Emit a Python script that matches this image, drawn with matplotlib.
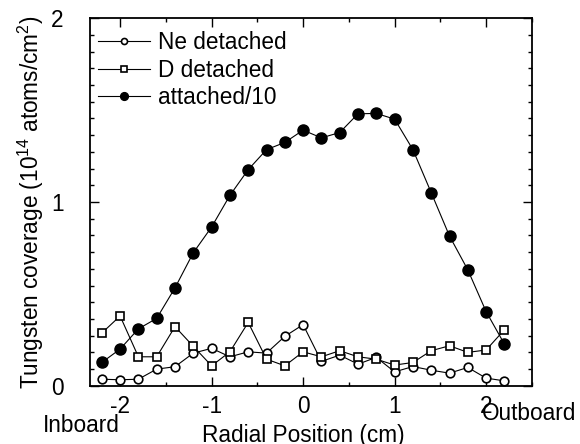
import numpy as np
import matplotlib
matplotlib.use('Agg')
import matplotlib.pyplot as plt
from matplotlib.ticker import FixedLocator, MultipleLocator

plt.rcParams['font.family'] = ['Liberation Sans', 'DejaVu Sans']
plt.rcParams['mathtext.fontset'] = 'custom'
plt.rcParams['mathtext.rm'] = 'Liberation Sans'

# radial positions (cm)
position = [-2.2, -2.0, -1.8, -1.6, -1.4, -1.2, -1.0, -0.8, -0.6, -0.4, -0.2, 0.0,
            0.2, 0.4, 0.6, 0.8, 1.0, 1.2, 1.4, 1.6, 1.8, 2.0, 2.2]

ne_detached = [0.036, 0.033, 0.036, 0.091, 0.104, 0.178, 0.204, 0.158, 0.185, 0.178, 0.269, 0.333,
               0.133, 0.167, 0.118, 0.155, 0.076, 0.105, 0.085, 0.069, 0.100, 0.042, 0.027]

d_detached = [0.287, 0.380, 0.158, 0.158, 0.322, 0.215, 0.109, 0.185, 0.345, 0.145, 0.109, 0.185,
              0.158, 0.191, 0.158, 0.145, 0.113, 0.127, 0.191, 0.218, 0.182, 0.195, 0.305]

attached_10 = [0.127, 0.200, 0.310, 0.367, 0.533, 0.724, 0.864, 1.036, 1.176, 1.285, 1.324, 1.391,
               1.349, 1.378, 1.480, 1.482, 1.451, 1.285, 1.051, 0.815, 0.631, 0.404, 0.227]

labels = ['Ne detached', 'D detached', 'attached/10']

fs = 16.3
fig = plt.figure(figsize=(5.8, 4.44), dpi=100)
ax = fig.add_axes([0.155, 0.131, 0.762, 0.828])

ax.plot(position, ne_detached, '-o', color='black', lw=0.8, ms=6.2,
        mfc='white', mec='black', mew=1.2, label=labels[0])
ax.plot(position, d_detached, '-s', color='black', lw=0.8, ms=5.8,
        mfc='white', mec='black', mew=1.2, label=labels[1])
ax.plot(position, attached_10, '-o', color='black', lw=0.8, ms=8,
        mfc='black', mec='black', label=labels[2])

ax.set_xlim(-2.33, 2.5)
ax.set_ylim(0, 2)
ax.xaxis.set_major_locator(FixedLocator([-2, -1, 0, 1, 2]))
ax.xaxis.set_minor_locator(MultipleLocator(0.5))
ax.yaxis.set_major_locator(FixedLocator([0, 1, 2]))
ax.yaxis.set_minor_locator(FixedLocator(np.arange(0, 2.0001, 1 / 11)))
ax.set_xticklabels(['-2', '-1', '0', '1', '2'])

ax.tick_params(which='both', direction='in', top=True, right=True, width=1.0)
ax.tick_params(which='major', length=6.5)
ax.tick_params(which='minor', length=3.2)
ax.tick_params(axis='x', labelsize=fs, pad=6.5)
ax.tick_params(axis='y', labelsize=fs, pad=19)
for s in ax.spines.values():
    s.set_linewidth(1.3)

ax.set_ylabel('Tungsten coverage (10$^{14}$ atoms/cm$^2$)', fontsize=fs)
ax.yaxis.set_label_coords(-0.099, 0.5)
ax.set_xlabel('Radial Position (cm)', fontsize=fs)
ax.xaxis.set_label_coords(0.483, -0.104)

fig.text(81.5 / 580, 1 - 432 / 444, 'Inboard', fontsize=fs, ha='center', va='baseline')
fig.text(529 / 580, 1 - 420 / 444, 'Outboard', fontsize=fs, ha='center', va='baseline')

leg = ax.legend(loc='upper left', bbox_to_anchor=(0.018, 0.965), frameon=False,
                fontsize=fs, handlelength=2.3, handletextpad=0.35, labelspacing=0.2,
                borderpad=0, borderaxespad=0, markerscale=0.7)

fig.savefig('out.png', dpi=100)
